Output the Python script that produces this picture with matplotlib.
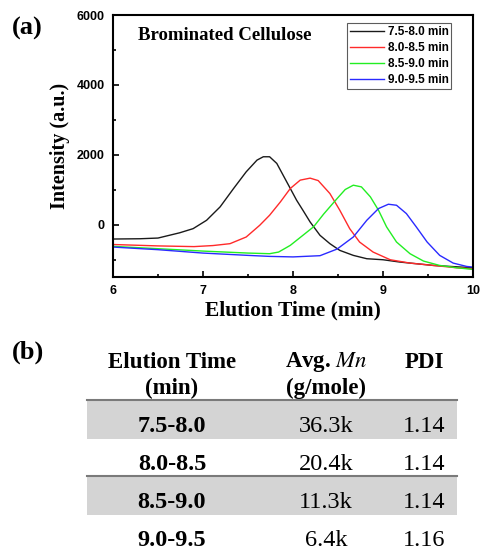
import matplotlib.pyplot as plt
from matplotlib.patches import Rectangle

# GPC traces (elution time in min, intensity in a.u.)
t_black = [6.0, 6.3, 6.5, 6.74, 6.89, 7.04, 7.19, 7.34, 7.48, 7.6, 7.67, 7.74, 7.82, 7.89,
           7.97, 8.04, 8.11, 8.19, 8.3, 8.41, 8.52, 8.67, 8.82, 9.0, 9.19, 9.56, 10.0]
i_black = [-413, -405, -385, -235, -116, 124, 507, 1034, 1511, 1846, 1942, 1942, 1751, 1416,
           1034, 698, 411, 76, -307, -546, -738, -881, -977, -1006, -1073, -1169, -1236]

t_red = [6.0, 6.5, 6.9, 7.11, 7.3, 7.48, 7.63, 7.74, 7.86, 7.97, 8.08, 8.19, 8.28, 8.41,
         8.52, 8.63, 8.74, 8.89, 9.08, 9.3, 9.56, 9.82, 10.0]
i_red = [-570, -610, -630, -600, -546, -355, -20, 268, 650, 1034, 1273, 1330, 1260, 889,
         411, -116, -500, -786, -1006, -1102, -1169, -1236, -1264]

t_green = [6.0, 6.5, 7.0, 7.5, 7.74, 7.84, 7.97, 8.11, 8.23, 8.34, 8.49, 8.58, 8.67, 8.76,
           8.86, 8.95, 9.04, 9.15, 9.3, 9.45, 9.63, 9.82, 10.0]
i_green = [-623, -690, -758, -815, -833, -786, -594, -307, -60, 300, 746, 1004, 1128, 1080,
           793, 411, -67, -498, -833, -1044, -1169, -1236, -1283]

t_blue = [6.0, 6.5, 7.0, 7.5, 7.74, 8.0, 8.3, 8.49, 8.67, 8.82, 8.95, 9.06, 9.15, 9.26,
          9.37, 9.49, 9.63, 9.78, 9.93, 10.0]
i_blue = [-643, -718, -815, -881, -910, -925, -890, -700, -355, 124, 459, 583, 554, 315,
          -67, -498, -881, -1102, -1198, -1217]

labels = ['7.5-8.0 min', '8.0-8.5 min', '8.5-9.0 min', '9.0-9.5 min']
colors = ['#1a1a1a', '#ff2a2a', '#22ee22', '#2a2aff']

# table (b)
fractions = ['7.5-8.0', '8.0-8.5', '8.5-9.0', '9.0-9.5']
avg_mn = ['36.3k', '20.4k', '11.3k', '6.4k']
pdi = ['1.14', '1.14', '1.14', '1.16']

serif = 'Liberation Serif'
sans = 'Liberation Sans'

fig = plt.figure(figsize=(4.8, 5.5), dpi=100)
ax = fig.add_axes([113 / 480, 1 - 277 / 550, 360 / 480, 262 / 550])

for t, v, c, lab in zip([t_black, t_red, t_green, t_blue],
                        [i_black, i_red, i_green, i_blue], colors, labels):
    ax.plot(t, v, color=c, lw=1.0, label=lab)

ax.set_xlim(6, 10)
ax.set_ylim(-1500, 6000)
ax.set_xticks([6, 7, 8, 9, 10])
ax.set_xticks([6.5, 7.5, 8.5, 9.5], minor=True)
ax.set_yticks([0, 2000, 4000, 6000])
ax.set_yticks([-1000, 1000, 3000, 5000], minor=True)
ax.tick_params(which='both', direction='in', width=1.2)
ax.tick_params(which='major', length=4, pad=6)
ax.tick_params(which='minor', length=2.5)
for lbl in ax.get_xticklabels() + ax.get_yticklabels():
    lbl.set_fontfamily(sans)
    lbl.set_fontweight('bold')
    lbl.set_fontsize(9)
for s in ax.spines.values():
    s.set_linewidth(1.5)

ax.set_xlabel('Elution Time (min)', family=serif, weight='bold', fontsize=15.5, labelpad=2)
ax.set_ylabel('Intensity (a.u.)', family=serif, weight='bold', fontsize=14.5, labelpad=5)
ax.text(0.07, 0.92, 'Brominated Cellulose', transform=ax.transAxes, family=serif,
        weight='bold', fontsize=13.5, va='center')

leg = ax.legend(loc='upper right', bbox_to_anchor=(0.94, 0.97), fancybox=False,
                prop={'family': sans, 'weight': 'bold', 'size': 8.5}, handlelength=2.9,
                handletextpad=0.3, labelspacing=0.35, borderpad=0.25, borderaxespad=0)
leg.get_frame().set_edgecolor('#333333')
leg.get_frame().set_linewidth(0.8)

# overlay in pixel coordinates for panel labels and the table
ov = fig.add_axes([0, 0, 1, 1], zorder=-1)
ov.set_xlim(0, 480)
ov.set_ylim(550, 0)
ov.axis('off')

ov.text(12, 28, '(a)', family=serif, weight='bold', fontsize=19, va='center')
ov.text(12, 352, '(b)', family=serif, weight='bold', fontsize=19, va='center')

col_x = [172, 326, 424]
hdr = dict(family=serif, weight='bold', fontsize=16.5, ha='center', va='center')
ov.text(col_x[0], 362, 'Elution Time', **hdr)
ov.text(col_x[0], 388, '(min)', **hdr)
ov.text(col_x[1], 362, r'Avg. $\mathbf{\mathit{Mn}}$', math_fontfamily='stix', **hdr)
ov.text(col_x[1], 388, '(g/mole)', **hdr)
ov.text(col_x[2], 362, 'PDI', **hdr)

row_y = [427, 465, 503, 540]
for k, (f, m, p) in enumerate(zip(fractions, avg_mn, pdi)):
    y = row_y[k]
    if k % 2 == 0:
        ov.add_patch(Rectangle((87, y - 27), 370, 39, facecolor='#d4d4d4', edgecolor='none'))
        ov.plot([87, 457], [y - 27, y - 27], color='#7a7a7a', lw=1.5)
    ov.text(col_x[0], y, f, family=serif, weight='bold', fontsize=17.5, ha='center', va='center')
    ov.text(col_x[1], y, m, family=serif, fontsize=17.5, ha='center', va='center')
    ov.text(col_x[2], y, p, family=serif, fontsize=17.5, ha='center', va='center')

fig.savefig('out.png', dpi=100)
